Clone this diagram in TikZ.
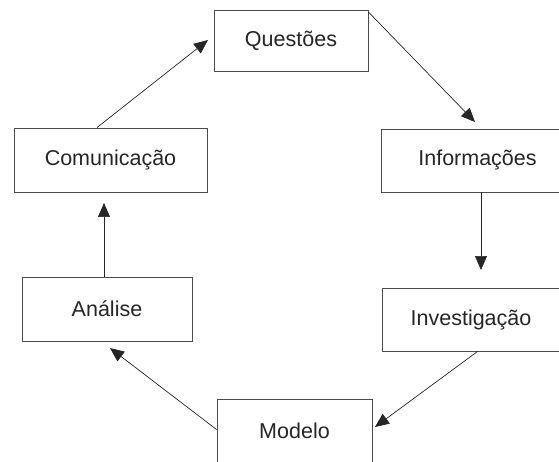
\documentclass[tikz,border=0pt]{standalone}
\usepackage{fontspec}
\setmainfont{Liberation Sans}
\usetikzlibrary{arrows.meta,calc}
\begin{document}
\begin{tikzpicture}[x=1pt,y=-1pt,
  boxnode/.style={draw=black!70,line width=0.9pt,rectangle,inner sep=0pt,font=\fontsize{21.5}{24}\selectfont,text=black!85},
  arr/.style={draw=black!85,line width=0.7pt,-{Triangle[length=14pt,width=12pt]}}]
\useasboundingbox[fill=white] (0,0) rectangle (559,462);
\node[boxnode,minimum width=154pt,minimum height=61pt] (q) at (291,40.5) {Questões};
\node[boxnode,minimum width=193pt,minimum height=63pt] (inf) at (477.5,160.5) {Informações};
\node[boxnode,minimum width=178pt,minimum height=63pt] (inv) at (471,319.5) {Investigação};
\node[boxnode,minimum width=155pt,minimum height=63pt] (mod) at (294.5,430.5) {Modelo};
\node[boxnode,minimum width=170pt,minimum height=64pt] (ana) at (107,309) {Análise};
\node[boxnode,minimum width=193pt,minimum height=64pt] (com) at (110.5,160) {Comunicação};
\coordinate (t1) at (208,40);
\coordinate (t2) at (475,122);
\coordinate (t3) at (481,270);
\coordinate (t4) at (375,427);
\coordinate (t5) at (110,348);
\coordinate (t6) at (104,203);
\draw[arr] ([xshift=-13.5pt]com.north) -- (t1);
\draw[arr] ([yshift=-2.5pt]q.north east) -- (t2);
\draw[arr] (inf.south -| t3) -- (t3);
\draw[arr] ($(inv.south west)+(96,0)$) -- (t4);
\draw[arr] ($(mod.north west)+(0,31)$) -- (t5);
\draw[arr] (ana.north -| t6) -- (t6);
\end{tikzpicture}
\end{document}
